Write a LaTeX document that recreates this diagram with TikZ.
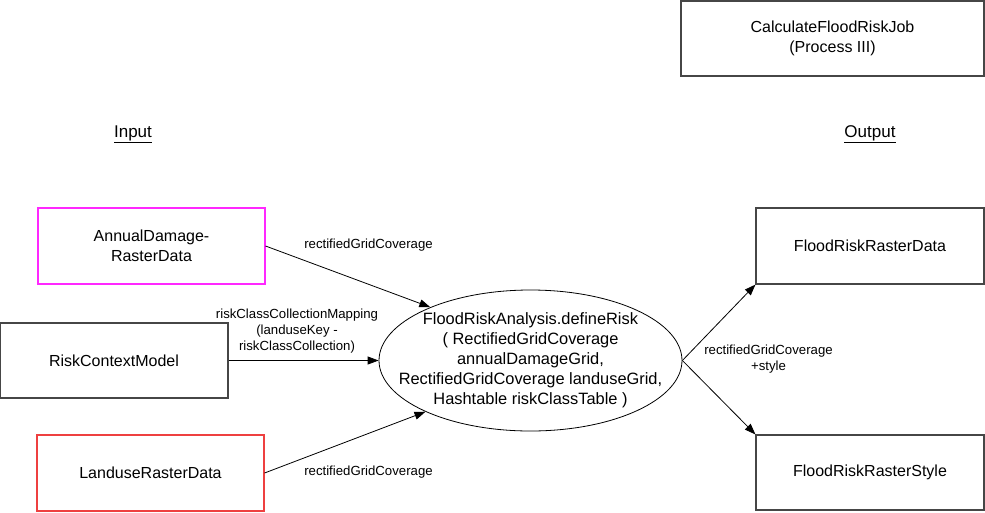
\documentclass[tikz,border=0pt]{standalone}
\usepackage{fontspec}
\setmainfont{Liberation Sans}
\usetikzlibrary{shapes.geometric,arrows.meta}
\definecolor{damagemag}{RGB}{255,40,255}
\definecolor{landred}{RGB}{238,64,64}
\definecolor{boxgray}{RGB}{70,70,70}
\begin{document}
\begin{tikzpicture}[x=1pt,y=-1pt,
  databox/.style={draw=boxgray,line width=1.1pt,minimum width=227pt,minimum height=76pt,
    inner sep=0pt,align=center,font=\fontsize{16}{19.5}\selectfont},
  flow/.style={-{Triangle[length=11pt,width=8pt]},line width=0.8pt},
  lbl/.style={font=\fontsize{13.2}{16}\selectfont,align=center,inner sep=0pt},
  heading/.style={font=\fontsize{17}{19}\selectfont,inner sep=0pt}]
\useasboundingbox (0,0) rectangle (985,512);

% job title
\node[databox,minimum width=303pt,minimum height=75pt] (job) at (832.5,38.5)
  {CalculateFloodRiskJob\\(Process III)};

% column headings
\node[heading] (inhead) at (133,134) {\underline{Input}};
\node[heading] (outhead) at (870,134) {\underline{Output}};

% inputs
\node[databox,draw=damagemag] (ad) at (151.5,246) {AnnualDamage-\\RasterData};
\node[databox,minimum width=228pt,minimum height=75pt] (rcm) at (114,360.5) {RiskContextModel};
\node[databox,draw=landred] (lu) at (150.5,473) {LanduseRasterData};

% process: fixed-size ellipse with its call signature inside
\node[draw,ellipse,line width=0.8pt,minimum width=303pt,minimum height=141pt,inner sep=0pt] (fr) at (530.5,360.5) {};
\node[align=center,inner sep=0pt,font=\fontsize{16.4}{20}\selectfont] (frtext) at (fr.center)
  {FloodRiskAnalysis.defineRisk\\( RectifiedGridCoverage\\annualDamageGrid,\\
   RectifiedGridCoverage landuseGrid,\\Hashtable riskClassTable )};

% outputs
\node[databox,minimum width=228pt] (frd) at (870,246) {FloodRiskRasterData};
\node[databox,minimum width=228pt,minimum height=75pt] (frs) at (870,472.5) {FloodRiskRasterStyle};

% connectors
\draw[flow] (ad.east) -- (fr.152);
\draw[flow] (rcm.east) -- (fr.west);
\draw[flow] (lu.east) -- (fr.206);
\draw[flow] (fr.east) -- (frd.south west);
\draw[flow] (fr.east) -- (frs.north west);

% connector labels
\node[lbl] (l1) at (368.5,245) {rectifiedGridCoverage};
\node[lbl] (l2) at (297,331.5) {riskClassCollectionMapping\\(landuseKey -\\riskClassCollection)};
\node[lbl] (l3) at (368.5,472) {rectifiedGridCoverage};
\node[lbl] (l4) at (768.5,359.5) {rectifiedGridCoverage\\+style};
\end{tikzpicture}
\end{document}
